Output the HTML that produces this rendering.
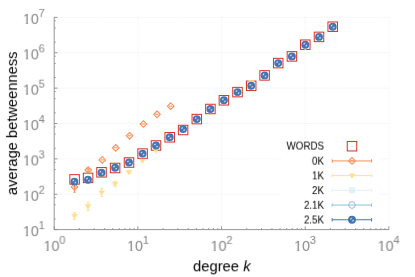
<!DOCTYPE html><html><head><meta charset="utf-8"><style>
html,body{margin:0;padding:0;background:#fff;}
body{width:415px;height:277px;position:relative;overflow:hidden;font-family:"Liberation Sans",sans-serif;}
.tl{position:absolute;color:#848484;font-size:14.3px;line-height:1;white-space:nowrap;}
.o{display:inline-block;clip-path:polygon(0 0,100% 0,100% 0.75em,0.36em 0.75em,0.36em 100%,0.23em 100%,0.23em 0.75em,0 0.75em);}
.tl sup{font-size:11.2px;position:relative;top:-7.3px;vertical-align:baseline;line-height:0;margin-left:-0.2px}
.lg{position:absolute;color:#000;font-size:10.4px;line-height:1;white-space:nowrap;text-align:right;width:60px;transform-origin:100% 50%;transform:scaleX(0.94);}
.xl{position:absolute;color:#000;font-size:14.8px;line-height:1;white-space:nowrap;}
.yl{position:absolute;color:#000;font-size:14.68px;line-height:1;white-space:nowrap;transform-origin:0 0;transform:rotate(-90deg);}
</style></head><body>
<svg width="415" height="277" viewBox="0 0 415 277" style="position:absolute;left:0;top:0;filter:blur(0.35px)">
<rect width="415" height="277" fill="#fff"/>
<g stroke="#e1e1e1" stroke-width="0.45" stroke-dasharray="1.5,1.0" fill="none">
<line x1="137.88" y1="17.4" x2="137.88" y2="229.6" stroke="#e9e9e9"/>
<line x1="221.55" y1="17.4" x2="221.55" y2="229.6" stroke="#e9e9e9"/>
<line x1="305.22" y1="17.4" x2="305.22" y2="229.6" stroke="#e9e9e9"/>
<line x1="388.90" y1="17.4" x2="388.90" y2="229.6" stroke="#e9e9e9"/>
<line x1="54.2" y1="194.23" x2="388.9" y2="194.23"/>
<line x1="54.2" y1="158.87" x2="388.9" y2="158.87"/>
<line x1="54.2" y1="123.50" x2="388.9" y2="123.50"/>
<line x1="54.2" y1="88.13" x2="388.9" y2="88.13"/>
<line x1="54.2" y1="52.77" x2="388.9" y2="52.77"/>
<line x1="54.2" y1="17.40" x2="388.9" y2="17.40"/>
</g>
<rect x="281.5" y="138.8" width="98.3" height="89.5" fill="#fff"/>
<g stroke="#8a8a8a" stroke-width="0.9" fill="none">
<path d="M54.2 17.4 V229.6 H388.9"/>
<line x1="54.20" y1="229.6" x2="54.20" y2="226.4"/>
<line x1="79.39" y1="229.6" x2="79.39" y2="228.0" stroke-width="0.8"/>
<line x1="94.12" y1="229.6" x2="94.12" y2="228.0" stroke-width="0.8"/>
<line x1="104.58" y1="229.6" x2="104.58" y2="228.0" stroke-width="0.8"/>
<line x1="112.69" y1="229.6" x2="112.69" y2="228.0" stroke-width="0.8"/>
<line x1="119.31" y1="229.6" x2="119.31" y2="228.0" stroke-width="0.8"/>
<line x1="124.91" y1="229.6" x2="124.91" y2="228.0" stroke-width="0.8"/>
<line x1="129.77" y1="229.6" x2="129.77" y2="228.0" stroke-width="0.8"/>
<line x1="134.05" y1="229.6" x2="134.05" y2="228.0" stroke-width="0.8"/>
<line x1="137.88" y1="229.6" x2="137.88" y2="226.4"/>
<line x1="163.06" y1="229.6" x2="163.06" y2="228.0" stroke-width="0.8"/>
<line x1="177.80" y1="229.6" x2="177.80" y2="228.0" stroke-width="0.8"/>
<line x1="188.25" y1="229.6" x2="188.25" y2="228.0" stroke-width="0.8"/>
<line x1="196.36" y1="229.6" x2="196.36" y2="228.0" stroke-width="0.8"/>
<line x1="202.99" y1="229.6" x2="202.99" y2="228.0" stroke-width="0.8"/>
<line x1="208.59" y1="229.6" x2="208.59" y2="228.0" stroke-width="0.8"/>
<line x1="213.44" y1="229.6" x2="213.44" y2="228.0" stroke-width="0.8"/>
<line x1="217.72" y1="229.6" x2="217.72" y2="228.0" stroke-width="0.8"/>
<line x1="221.55" y1="229.6" x2="221.55" y2="226.4"/>
<line x1="246.74" y1="229.6" x2="246.74" y2="228.0" stroke-width="0.8"/>
<line x1="261.47" y1="229.6" x2="261.47" y2="228.0" stroke-width="0.8"/>
<line x1="271.93" y1="229.6" x2="271.93" y2="228.0" stroke-width="0.8"/>
<line x1="280.04" y1="229.6" x2="280.04" y2="228.0" stroke-width="0.8"/>
<line x1="286.66" y1="229.6" x2="286.66" y2="228.0" stroke-width="0.8"/>
<line x1="292.26" y1="229.6" x2="292.26" y2="228.0" stroke-width="0.8"/>
<line x1="297.12" y1="229.6" x2="297.12" y2="228.0" stroke-width="0.8"/>
<line x1="301.40" y1="229.6" x2="301.40" y2="228.0" stroke-width="0.8"/>
<line x1="305.22" y1="229.6" x2="305.22" y2="226.4"/>
<line x1="330.41" y1="229.6" x2="330.41" y2="228.0" stroke-width="0.8"/>
<line x1="345.15" y1="229.6" x2="345.15" y2="228.0" stroke-width="0.8"/>
<line x1="355.60" y1="229.6" x2="355.60" y2="228.0" stroke-width="0.8"/>
<line x1="363.71" y1="229.6" x2="363.71" y2="228.0" stroke-width="0.8"/>
<line x1="370.34" y1="229.6" x2="370.34" y2="228.0" stroke-width="0.8"/>
<line x1="375.94" y1="229.6" x2="375.94" y2="228.0" stroke-width="0.8"/>
<line x1="380.79" y1="229.6" x2="380.79" y2="228.0" stroke-width="0.8"/>
<line x1="385.07" y1="229.6" x2="385.07" y2="228.0" stroke-width="0.8"/>
<line x1="388.90" y1="229.6" x2="388.90" y2="226.4"/>
<line x1="54.2" y1="229.60" x2="57.400000000000006" y2="229.60"/>
<line x1="54.2" y1="218.95" x2="55.800000000000004" y2="218.95" stroke-width="0.8"/>
<line x1="54.2" y1="204.88" x2="55.800000000000004" y2="204.88" stroke-width="0.8"/>
<line x1="54.2" y1="197.66" x2="55.800000000000004" y2="197.66" stroke-width="0.8"/>
<line x1="54.2" y1="194.23" x2="57.400000000000006" y2="194.23"/>
<line x1="54.2" y1="183.59" x2="55.800000000000004" y2="183.59" stroke-width="0.8"/>
<line x1="54.2" y1="169.51" x2="55.800000000000004" y2="169.51" stroke-width="0.8"/>
<line x1="54.2" y1="162.29" x2="55.800000000000004" y2="162.29" stroke-width="0.8"/>
<line x1="54.2" y1="158.87" x2="57.400000000000006" y2="158.87"/>
<line x1="54.2" y1="148.22" x2="55.800000000000004" y2="148.22" stroke-width="0.8"/>
<line x1="54.2" y1="134.15" x2="55.800000000000004" y2="134.15" stroke-width="0.8"/>
<line x1="54.2" y1="126.93" x2="55.800000000000004" y2="126.93" stroke-width="0.8"/>
<line x1="54.2" y1="123.50" x2="57.400000000000006" y2="123.50"/>
<line x1="54.2" y1="112.85" x2="55.800000000000004" y2="112.85" stroke-width="0.8"/>
<line x1="54.2" y1="98.78" x2="55.800000000000004" y2="98.78" stroke-width="0.8"/>
<line x1="54.2" y1="91.56" x2="55.800000000000004" y2="91.56" stroke-width="0.8"/>
<line x1="54.2" y1="88.13" x2="57.400000000000006" y2="88.13"/>
<line x1="54.2" y1="77.49" x2="55.800000000000004" y2="77.49" stroke-width="0.8"/>
<line x1="54.2" y1="63.41" x2="55.800000000000004" y2="63.41" stroke-width="0.8"/>
<line x1="54.2" y1="56.19" x2="55.800000000000004" y2="56.19" stroke-width="0.8"/>
<line x1="54.2" y1="52.77" x2="57.400000000000006" y2="52.77"/>
<line x1="54.2" y1="42.12" x2="55.800000000000004" y2="42.12" stroke-width="0.8"/>
<line x1="54.2" y1="28.05" x2="55.800000000000004" y2="28.05" stroke-width="0.8"/>
<line x1="54.2" y1="20.83" x2="55.800000000000004" y2="20.83" stroke-width="0.8"/>
<line x1="54.2" y1="17.40" x2="57.400000000000006" y2="17.40"/>
</g>
<rect x="69.85" y="174.65" width="9.5" height="9.5" fill="none" stroke="#d73027" stroke-width="1"/>
<circle cx="74.60" cy="179.40" r="0.4" fill="#d73027"/>
<rect x="83.35" y="173.15" width="9.5" height="9.5" fill="none" stroke="#d73027" stroke-width="1"/>
<circle cx="88.10" cy="177.90" r="0.4" fill="#d73027"/>
<rect x="96.75" y="167.55" width="9.5" height="9.5" fill="none" stroke="#d73027" stroke-width="1"/>
<circle cx="101.50" cy="172.30" r="0.4" fill="#d73027"/>
<rect x="110.35" y="163.25" width="9.5" height="9.5" fill="none" stroke="#d73027" stroke-width="1"/>
<circle cx="115.10" cy="168.00" r="0.4" fill="#d73027"/>
<rect x="124.25" y="157.75" width="9.5" height="9.5" fill="none" stroke="#d73027" stroke-width="1"/>
<circle cx="129.00" cy="162.50" r="0.4" fill="#d73027"/>
<rect x="137.85" y="148.85" width="9.5" height="9.5" fill="none" stroke="#d73027" stroke-width="1"/>
<circle cx="142.60" cy="153.60" r="0.4" fill="#d73027"/>
<rect x="151.25" y="140.75" width="9.5" height="9.5" fill="none" stroke="#d73027" stroke-width="1"/>
<circle cx="156.00" cy="145.50" r="0.4" fill="#d73027"/>
<rect x="164.95" y="132.55" width="9.5" height="9.5" fill="none" stroke="#d73027" stroke-width="1"/>
<circle cx="169.70" cy="137.30" r="0.4" fill="#d73027"/>
<rect x="178.35" y="125.25" width="9.5" height="9.5" fill="none" stroke="#d73027" stroke-width="1"/>
<circle cx="183.10" cy="130.00" r="0.4" fill="#d73027"/>
<rect x="192.05" y="114.35" width="9.5" height="9.5" fill="none" stroke="#d73027" stroke-width="1"/>
<circle cx="196.80" cy="119.10" r="0.4" fill="#d73027"/>
<rect x="205.65" y="104.25" width="9.5" height="9.5" fill="none" stroke="#d73027" stroke-width="1"/>
<circle cx="210.40" cy="109.00" r="0.4" fill="#d73027"/>
<rect x="219.15" y="95.55" width="9.5" height="9.5" fill="none" stroke="#d73027" stroke-width="1"/>
<circle cx="223.90" cy="100.30" r="0.4" fill="#d73027"/>
<rect x="232.75" y="87.35" width="9.5" height="9.5" fill="none" stroke="#d73027" stroke-width="1"/>
<circle cx="237.50" cy="92.10" r="0.4" fill="#d73027"/>
<rect x="246.45" y="81.05" width="9.5" height="9.5" fill="none" stroke="#d73027" stroke-width="1"/>
<circle cx="251.20" cy="85.80" r="0.4" fill="#d73027"/>
<rect x="259.85" y="70.65" width="9.5" height="9.5" fill="none" stroke="#d73027" stroke-width="1"/>
<circle cx="264.60" cy="75.40" r="0.4" fill="#d73027"/>
<rect x="273.45" y="58.35" width="9.5" height="9.5" fill="none" stroke="#d73027" stroke-width="1"/>
<circle cx="278.20" cy="63.10" r="0.4" fill="#d73027"/>
<rect x="287.15" y="51.65" width="9.5" height="9.5" fill="none" stroke="#d73027" stroke-width="1"/>
<circle cx="291.90" cy="56.40" r="0.4" fill="#d73027"/>
<rect x="300.55" y="39.95" width="9.5" height="9.5" fill="none" stroke="#d73027" stroke-width="1"/>
<circle cx="305.30" cy="44.70" r="0.4" fill="#d73027"/>
<rect x="314.25" y="32.15" width="9.5" height="9.5" fill="none" stroke="#d73027" stroke-width="1"/>
<circle cx="319.00" cy="36.90" r="0.4" fill="#d73027"/>
<rect x="327.95" y="21.95" width="9.5" height="9.5" fill="none" stroke="#d73027" stroke-width="1"/>
<circle cx="332.70" cy="26.70" r="0.4" fill="#d73027"/>
<path d="M74.50 183.90 V192.20 M72.90 183.90 h3.2 M72.90 192.20 h3.2" stroke="#fc8d59" stroke-width="0.9" fill="none"/>
<path d="M74.50 183.60 L77.80 186.90 L74.50 190.20 L71.20 186.90 Z" fill="none" stroke="#fc8d59" stroke-width="1.1"/>
<path d="M72.90 186.90 h3.2" stroke="#fc8d59" stroke-width="1" fill="none"/>
<path d="M88.20 168.80 V171.40 M86.60 168.80 h3.2 M86.60 171.40 h3.2" stroke="#fc8d59" stroke-width="0.9" fill="none"/>
<path d="M88.20 166.70 L91.50 170.00 L88.20 173.30 L84.90 170.00 Z" fill="none" stroke="#fc8d59" stroke-width="1.1"/>
<path d="M86.60 170.00 h3.2" stroke="#fc8d59" stroke-width="1" fill="none"/>
<path d="M102.30 156.60 L105.60 159.90 L102.30 163.20 L99.00 159.90 Z" fill="none" stroke="#fc8d59" stroke-width="1.1"/>
<path d="M100.70 159.90 h3.2" stroke="#fc8d59" stroke-width="1" fill="none"/>
<path d="M115.70 144.50 L119.00 147.80 L115.70 151.10 L112.40 147.80 Z" fill="none" stroke="#fc8d59" stroke-width="1.1"/>
<path d="M114.10 147.80 h3.2" stroke="#fc8d59" stroke-width="1" fill="none"/>
<path d="M129.60 132.50 L132.90 135.80 L129.60 139.10 L126.30 135.80 Z" fill="none" stroke="#fc8d59" stroke-width="1.1"/>
<path d="M128.00 135.80 h3.2" stroke="#fc8d59" stroke-width="1" fill="none"/>
<path d="M143.40 120.70 L146.70 124.00 L143.40 127.30 L140.10 124.00 Z" fill="none" stroke="#fc8d59" stroke-width="1.1"/>
<path d="M141.80 124.00 h3.2" stroke="#fc8d59" stroke-width="1" fill="none"/>
<path d="M157.00 111.00 L160.30 114.30 L157.00 117.60 L153.70 114.30 Z" fill="none" stroke="#fc8d59" stroke-width="1.1"/>
<path d="M155.40 114.30 h3.2" stroke="#fc8d59" stroke-width="1" fill="none"/>
<path d="M170.70 102.90 L174.00 106.20 L170.70 109.50 L167.40 106.20 Z" fill="none" stroke="#fc8d59" stroke-width="1.1"/>
<path d="M169.10 106.20 h3.2" stroke="#fc8d59" stroke-width="1" fill="none"/>
<path d="M74.50 212.50 V219.70 M72.90 212.50 h3.2 M72.90 219.70 h3.2" stroke="#fee090" stroke-width="0.9" fill="none"/>
<path d="M71.50 214.10 L77.50 214.10 L74.50 218.80 Z" fill="#fee090" stroke="#fee090" stroke-width="0.4"/>
<path d="M88.00 202.20 V210.60 M86.40 202.20 h3.2 M86.40 210.60 h3.2" stroke="#fee090" stroke-width="0.9" fill="none"/>
<path d="M85.00 204.50 L91.00 204.50 L88.00 209.20 Z" fill="#fee090" stroke="#fee090" stroke-width="0.4"/>
<path d="M101.60 188.50 V196.50 M100.00 188.50 h3.2 M100.00 196.50 h3.2" stroke="#fee090" stroke-width="0.9" fill="none"/>
<path d="M98.60 190.80 L104.60 190.80 L101.60 195.50 Z" fill="#fee090" stroke="#fee090" stroke-width="0.4"/>
<path d="M115.10 181.20 V186.40 M113.50 181.20 h3.2 M113.50 186.40 h3.2" stroke="#fee090" stroke-width="0.9" fill="none"/>
<path d="M112.10 182.10 L118.10 182.10 L115.10 186.80 Z" fill="#fee090" stroke="#fee090" stroke-width="0.4"/>
<path d="M128.80 170.70 V173.70 M127.20 170.70 h3.2 M127.20 173.70 h3.2" stroke="#fee090" stroke-width="0.9" fill="none"/>
<path d="M125.80 170.30 L131.80 170.30 L128.80 175.00 Z" fill="#fee090" stroke="#fee090" stroke-width="0.4"/>
<path d="M142.40 159.80 V161.80 M140.80 159.80 h3.2 M140.80 161.80 h3.2" stroke="#fee090" stroke-width="0.9" fill="none"/>
<path d="M139.40 158.90 L145.40 158.90 L142.40 163.60 Z" fill="#fee090" stroke="#fee090" stroke-width="0.4"/>
<path d="M152.80 148.70 L158.80 148.70 L155.80 153.40 Z" fill="#fee090" stroke="#fee090" stroke-width="0.4"/>
<path d="M166.70 136.20 L172.70 136.20 L169.70 140.90 Z" fill="#fee090" stroke="#fee090" stroke-width="0.4"/>
<path d="M180.10 128.00 L186.10 128.00 L183.10 132.70 Z" fill="#fee090" stroke="#fee090" stroke-width="0.4"/>
<path d="M193.80 118.00 L199.80 118.00 L196.80 122.70 Z" fill="#fee090" stroke="#fee090" stroke-width="0.4"/>
<path d="M207.40 107.90 L213.40 107.90 L210.40 112.60 Z" fill="#fee090" stroke="#fee090" stroke-width="0.4"/>
<path d="M220.90 99.20 L226.90 99.20 L223.90 103.90 Z" fill="#fee090" stroke="#fee090" stroke-width="0.4"/>
<path d="M234.50 91.00 L240.50 91.00 L237.50 95.70 Z" fill="#fee090" stroke="#fee090" stroke-width="0.4"/>
<path d="M248.20 80.40 L254.20 80.40 L251.20 85.10 Z" fill="#fee090" stroke="#fee090" stroke-width="0.4"/>
<path d="M261.60 74.30 L267.60 74.30 L264.60 79.00 Z" fill="#fee090" stroke="#fee090" stroke-width="0.4"/>
<path d="M275.20 62.00 L281.20 62.00 L278.20 66.70 Z" fill="#fee090" stroke="#fee090" stroke-width="0.4"/>
<path d="M288.90 55.30 L294.90 55.30 L291.90 60.00 Z" fill="#fee090" stroke="#fee090" stroke-width="0.4"/>
<path d="M302.30 45.70 L308.30 45.70 L305.30 50.40 Z" fill="#fee090" stroke="#fee090" stroke-width="0.4"/>
<circle cx="74.40" cy="181.60" r="3.95" fill="#4575b4"/>
<path d="M74.40 181.60 L72.30 181.60 A2.1 2.1 0 0 1 74.40 179.50 Z M74.40 181.60 L76.50 181.60 A2.1 2.1 0 0 1 74.40 183.70 Z" fill="#fff" fill-opacity="0.85"/>
<path d="M72.30 181.60 h4.2 M74.40 179.50 v4.2" stroke="#4575b4" stroke-width="0.8" fill="none"/>
<circle cx="88.00" cy="179.70" r="3.95" fill="#4575b4"/>
<path d="M88.00 179.70 L85.90 179.70 A2.1 2.1 0 0 1 88.00 177.60 Z M88.00 179.70 L90.10 179.70 A2.1 2.1 0 0 1 88.00 181.80 Z" fill="#fff" fill-opacity="0.85"/>
<path d="M85.90 179.70 h4.2 M88.00 177.60 v4.2" stroke="#4575b4" stroke-width="0.8" fill="none"/>
<circle cx="101.50" cy="172.80" r="3.95" fill="#4575b4"/>
<path d="M101.50 172.80 L99.40 172.80 A2.1 2.1 0 0 1 101.50 170.70 Z M101.50 172.80 L103.60 172.80 A2.1 2.1 0 0 1 101.50 174.90 Z" fill="#fff" fill-opacity="0.85"/>
<path d="M99.40 172.80 h4.2 M101.50 170.70 v4.2" stroke="#4575b4" stroke-width="0.8" fill="none"/>
<circle cx="115.10" cy="167.70" r="3.95" fill="#4575b4"/>
<path d="M115.10 167.70 L113.00 167.70 A2.1 2.1 0 0 1 115.10 165.60 Z M115.10 167.70 L117.20 167.70 A2.1 2.1 0 0 1 115.10 169.80 Z" fill="#fff" fill-opacity="0.85"/>
<path d="M113.00 167.70 h4.2 M115.10 165.60 v4.2" stroke="#4575b4" stroke-width="0.8" fill="none"/>
<circle cx="129.00" cy="162.50" r="3.95" fill="#4575b4"/>
<path d="M129.00 162.50 L126.90 162.50 A2.1 2.1 0 0 1 129.00 160.40 Z M129.00 162.50 L131.10 162.50 A2.1 2.1 0 0 1 129.00 164.60 Z" fill="#fff" fill-opacity="0.85"/>
<path d="M126.90 162.50 h4.2 M129.00 160.40 v4.2" stroke="#4575b4" stroke-width="0.8" fill="none"/>
<circle cx="142.60" cy="153.60" r="3.95" fill="#4575b4"/>
<path d="M142.60 153.60 L140.50 153.60 A2.1 2.1 0 0 1 142.60 151.50 Z M142.60 153.60 L144.70 153.60 A2.1 2.1 0 0 1 142.60 155.70 Z" fill="#fff" fill-opacity="0.85"/>
<path d="M140.50 153.60 h4.2 M142.60 151.50 v4.2" stroke="#4575b4" stroke-width="0.8" fill="none"/>
<circle cx="156.00" cy="145.50" r="3.95" fill="#4575b4"/>
<path d="M156.00 145.50 L153.90 145.50 A2.1 2.1 0 0 1 156.00 143.40 Z M156.00 145.50 L158.10 145.50 A2.1 2.1 0 0 1 156.00 147.60 Z" fill="#fff" fill-opacity="0.85"/>
<path d="M153.90 145.50 h4.2 M156.00 143.40 v4.2" stroke="#4575b4" stroke-width="0.8" fill="none"/>
<circle cx="169.70" cy="137.30" r="3.95" fill="#4575b4"/>
<path d="M169.70 137.30 L167.60 137.30 A2.1 2.1 0 0 1 169.70 135.20 Z M169.70 137.30 L171.80 137.30 A2.1 2.1 0 0 1 169.70 139.40 Z" fill="#fff" fill-opacity="0.85"/>
<path d="M167.60 137.30 h4.2 M169.70 135.20 v4.2" stroke="#4575b4" stroke-width="0.8" fill="none"/>
<circle cx="183.10" cy="129.10" r="3.95" fill="#4575b4"/>
<path d="M183.10 129.10 L181.00 129.10 A2.1 2.1 0 0 1 183.10 127.00 Z M183.10 129.10 L185.20 129.10 A2.1 2.1 0 0 1 183.10 131.20 Z" fill="#fff" fill-opacity="0.85"/>
<path d="M181.00 129.10 h4.2 M183.10 127.00 v4.2" stroke="#4575b4" stroke-width="0.8" fill="none"/>
<circle cx="196.80" cy="119.10" r="3.95" fill="#4575b4"/>
<path d="M196.80 119.10 L194.70 119.10 A2.1 2.1 0 0 1 196.80 117.00 Z M196.80 119.10 L198.90 119.10 A2.1 2.1 0 0 1 196.80 121.20 Z" fill="#fff" fill-opacity="0.85"/>
<path d="M194.70 119.10 h4.2 M196.80 117.00 v4.2" stroke="#4575b4" stroke-width="0.8" fill="none"/>
<circle cx="210.40" cy="109.00" r="3.95" fill="#4575b4"/>
<path d="M210.40 109.00 L208.30 109.00 A2.1 2.1 0 0 1 210.40 106.90 Z M210.40 109.00 L212.50 109.00 A2.1 2.1 0 0 1 210.40 111.10 Z" fill="#fff" fill-opacity="0.85"/>
<path d="M208.30 109.00 h4.2 M210.40 106.90 v4.2" stroke="#4575b4" stroke-width="0.8" fill="none"/>
<circle cx="223.90" cy="100.30" r="3.95" fill="#4575b4"/>
<path d="M223.90 100.30 L221.80 100.30 A2.1 2.1 0 0 1 223.90 98.20 Z M223.90 100.30 L226.00 100.30 A2.1 2.1 0 0 1 223.90 102.40 Z" fill="#fff" fill-opacity="0.85"/>
<path d="M221.80 100.30 h4.2 M223.90 98.20 v4.2" stroke="#4575b4" stroke-width="0.8" fill="none"/>
<circle cx="237.50" cy="92.10" r="3.95" fill="#4575b4"/>
<path d="M237.50 92.10 L235.40 92.10 A2.1 2.1 0 0 1 237.50 90.00 Z M237.50 92.10 L239.60 92.10 A2.1 2.1 0 0 1 237.50 94.20 Z" fill="#fff" fill-opacity="0.85"/>
<path d="M235.40 92.10 h4.2 M237.50 90.00 v4.2" stroke="#4575b4" stroke-width="0.8" fill="none"/>
<circle cx="251.20" cy="85.80" r="3.95" fill="#4575b4"/>
<path d="M251.20 85.80 L249.10 85.80 A2.1 2.1 0 0 1 251.20 83.70 Z M251.20 85.80 L253.30 85.80 A2.1 2.1 0 0 1 251.20 87.90 Z" fill="#fff" fill-opacity="0.85"/>
<path d="M249.10 85.80 h4.2 M251.20 83.70 v4.2" stroke="#4575b4" stroke-width="0.8" fill="none"/>
<circle cx="264.60" cy="75.40" r="3.95" fill="#4575b4"/>
<path d="M264.60 75.40 L262.50 75.40 A2.1 2.1 0 0 1 264.60 73.30 Z M264.60 75.40 L266.70 75.40 A2.1 2.1 0 0 1 264.60 77.50 Z" fill="#fff" fill-opacity="0.85"/>
<path d="M262.50 75.40 h4.2 M264.60 73.30 v4.2" stroke="#4575b4" stroke-width="0.8" fill="none"/>
<circle cx="278.20" cy="63.10" r="3.95" fill="#4575b4"/>
<path d="M278.20 63.10 L276.10 63.10 A2.1 2.1 0 0 1 278.20 61.00 Z M278.20 63.10 L280.30 63.10 A2.1 2.1 0 0 1 278.20 65.20 Z" fill="#fff" fill-opacity="0.85"/>
<path d="M276.10 63.10 h4.2 M278.20 61.00 v4.2" stroke="#4575b4" stroke-width="0.8" fill="none"/>
<circle cx="291.90" cy="56.40" r="3.95" fill="#4575b4"/>
<path d="M291.90 56.40 L289.80 56.40 A2.1 2.1 0 0 1 291.90 54.30 Z M291.90 56.40 L294.00 56.40 A2.1 2.1 0 0 1 291.90 58.50 Z" fill="#fff" fill-opacity="0.85"/>
<path d="M289.80 56.40 h4.2 M291.90 54.30 v4.2" stroke="#4575b4" stroke-width="0.8" fill="none"/>
<circle cx="305.30" cy="44.70" r="3.95" fill="#4575b4"/>
<path d="M305.30 44.70 L303.20 44.70 A2.1 2.1 0 0 1 305.30 42.60 Z M305.30 44.70 L307.40 44.70 A2.1 2.1 0 0 1 305.30 46.80 Z" fill="#fff" fill-opacity="0.85"/>
<path d="M303.20 44.70 h4.2 M305.30 42.60 v4.2" stroke="#4575b4" stroke-width="0.8" fill="none"/>
<circle cx="319.00" cy="36.90" r="3.95" fill="#4575b4"/>
<path d="M319.00 36.90 L316.90 36.90 A2.1 2.1 0 0 1 319.00 34.80 Z M319.00 36.90 L321.10 36.90 A2.1 2.1 0 0 1 319.00 39.00 Z" fill="#fff" fill-opacity="0.85"/>
<path d="M316.90 36.90 h4.2 M319.00 34.80 v4.2" stroke="#4575b4" stroke-width="0.8" fill="none"/>
<circle cx="332.70" cy="26.70" r="3.95" fill="#4575b4"/>
<path d="M332.70 26.70 L330.60 26.70 A2.1 2.1 0 0 1 332.70 24.60 Z M332.70 26.70 L334.80 26.70 A2.1 2.1 0 0 1 332.70 28.80 Z" fill="#fff" fill-opacity="0.85"/>
<path d="M330.60 26.70 h4.2 M332.70 24.60 v4.2" stroke="#4575b4" stroke-width="0.8" fill="none"/>
<rect x="347.25" y="141.45" width="9.5" height="9.5" fill="none" stroke="#d73027" stroke-width="1"/>
<circle cx="352.0" cy="146.2" r="0.4" fill="#d73027"/>
<path d="M332.2 160.95 H371.6 M332.2 159.25 v3.4 M371.6 159.25 v3.4" stroke="#fc8d59" stroke-width="1" fill="none"/>
<path d="M352.00 157.65 L355.30 160.95 L352.00 164.25 L348.70 160.95 Z" fill="none" stroke="#fc8d59" stroke-width="1.1"/>
<path d="M350.40 160.95 h3.2" stroke="#fc8d59" stroke-width="1" fill="none"/>
<path d="M332.2 175.65 H371.6 M332.2 173.95000000000002 v3.4 M371.6 173.95000000000002 v3.4" stroke="#fee090" stroke-width="1" fill="none"/>
<path d="M349.00 173.75 L355.00 173.75 L352.00 178.45 Z" fill="#fee090" stroke="#fee090" stroke-width="0.4"/>
<path d="M332.2 190.35 H371.6 M332.2 188.65 v3.4 M371.6 188.65 v3.4" stroke="#e0f3f8" stroke-width="1" fill="none"/>
<rect x="349.00" y="187.35" width="6.0" height="6.0" fill="#e0f3f8"/>
<path d="M332.2 205.05 H371.6 M332.2 203.35000000000002 v3.4 M371.6 203.35000000000002 v3.4" stroke="#91bfdb" stroke-width="1" fill="none"/>
<circle cx="352.00" cy="205.05" r="3.3" fill="none" stroke="#91bfdb" stroke-width="1"/>
<path d="M332.2 219.75 H371.6 M332.2 218.05 v3.4 M371.6 218.05 v3.4" stroke="#4575b4" stroke-width="1" fill="none"/>
<circle cx="352.00" cy="219.75" r="3.95" fill="#4575b4"/>
<path d="M352.00 219.75 L349.90 219.75 A2.1 2.1 0 0 1 352.00 217.65 Z M352.00 219.75 L354.10 219.75 A2.1 2.1 0 0 1 352.00 221.85 Z" fill="#fff" fill-opacity="0.85"/>
<path d="M349.90 219.75 h4.2 M352.00 217.65 v4.2" stroke="#4575b4" stroke-width="0.8" fill="none"/>
</svg>
<svg width="0" height="0" style="position:absolute"><defs><filter id="k0" x="-10%" y="-40%" width="120%" height="180%" color-interpolation-filters="sRGB"><feConvolveMatrix order="3 3" kernelMatrix="0 0 0 0.17 0.68 0 0.03 0.12 0" divisor="1" preserveAlpha="false" edgeMode="none"/></filter><filter id="k1" x="-10%" y="-40%" width="120%" height="180%" color-interpolation-filters="sRGB"><feConvolveMatrix order="3 3" kernelMatrix="0.044 0.176 0 0.156 0.624 0 0 0 0" divisor="1" preserveAlpha="false" edgeMode="none"/></filter><filter id="k2" x="-10%" y="-40%" width="120%" height="180%" color-interpolation-filters="sRGB"><feConvolveMatrix order="3 3" kernelMatrix="0 0 0 0.116 0.464 0 0.084 0.336 0" divisor="1" preserveAlpha="false" edgeMode="none"/></filter><filter id="k3" x="-10%" y="-40%" width="120%" height="180%" color-interpolation-filters="sRGB"><feConvolveMatrix order="3 3" kernelMatrix="0.0072 0.029 0 0.1755 0.702 0 0.0172 0.069 0" divisor="1" preserveAlpha="false" edgeMode="none"/></filter><filter id="k4" x="-10%" y="-40%" width="120%" height="180%" color-interpolation-filters="sRGB"><feConvolveMatrix order="3 3" kernelMatrix="0.064 0.256 0 0.136 0.544 0 0 0 0" divisor="1" preserveAlpha="false" edgeMode="none"/></filter><filter id="k5" x="-10%" y="-40%" width="120%" height="180%" color-interpolation-filters="sRGB"><feConvolveMatrix order="3 3" kernelMatrix="0 0 0 0.136 0.544 0 0.064 0.256 0" divisor="1" preserveAlpha="false" edgeMode="none"/></filter><filter id="k6" x="-10%" y="-40%" width="120%" height="180%" color-interpolation-filters="sRGB"><feConvolveMatrix order="3 3" kernelMatrix="0.0172 0.069 0 0.1755 0.702 0 0.0072 0.029 0" divisor="1" preserveAlpha="false" edgeMode="none"/></filter><filter id="k7" x="-10%" y="-40%" width="120%" height="180%" color-interpolation-filters="sRGB"><feConvolveMatrix order="3 3" kernelMatrix="0.0575 0.0575 0 0.435 0.435 0 0.0075 0.0075 0" divisor="1" preserveAlpha="false" edgeMode="none"/></filter><filter id="k8" x="-10%" y="-40%" width="120%" height="180%" color-interpolation-filters="sRGB"><feConvolveMatrix order="3 3" kernelMatrix="0.0058 0.1012 0.0081 0.0437 0.7653 0.0611 0.0008 0.0132 0.0011" divisor="1" preserveAlpha="false" edgeMode="none"/></filter><filter id="k9" x="-10%" y="-40%" width="120%" height="180%" color-interpolation-filters="sRGB"><feConvolveMatrix order="3 3" kernelMatrix="0.0518 0.0633 0 0.3915 0.4785 0 0.0067 0.0083 0" divisor="1" preserveAlpha="false" edgeMode="none"/></filter><filter id="k10" x="-10%" y="-40%" width="120%" height="180%" color-interpolation-filters="sRGB"><feConvolveMatrix order="3 3" kernelMatrix="0.0032 0.1006 0.0112 0.0239 0.7613 0.0848 0.0004 0.0131 0.0015" divisor="1" preserveAlpha="false" edgeMode="none"/></filter><filter id="k11" x="-10%" y="-40%" width="120%" height="180%" color-interpolation-filters="sRGB"><feConvolveMatrix order="3 3" kernelMatrix="0.046 0.069 0 0.348 0.522 0 0.006 0.009 0" divisor="1" preserveAlpha="false" edgeMode="none"/></filter><filter id="k12" x="-10%" y="-40%" width="120%" height="180%" color-interpolation-filters="sRGB"><feConvolveMatrix order="3 3" kernelMatrix="0.024 0.352 0.024 0.036 0.528 0.036 0 0 0" divisor="1" preserveAlpha="false" edgeMode="none"/></filter><filter id="k13" x="-10%" y="-40%" width="120%" height="180%" color-interpolation-filters="sRGB"><feConvolveMatrix order="3 3" kernelMatrix="0.018 0.264 0.018 0.042 0.616 0.042 0 0 0" divisor="1" preserveAlpha="false" edgeMode="none"/></filter><filter id="k14" x="-10%" y="-40%" width="120%" height="180%" color-interpolation-filters="sRGB"><feConvolveMatrix order="3 3" kernelMatrix="0 0 0 0.036 0.528 0.036 0.024 0.352 0.024" divisor="1" preserveAlpha="false" edgeMode="none"/></filter><filter id="k15" x="-10%" y="-40%" width="120%" height="180%" color-interpolation-filters="sRGB"><feConvolveMatrix order="3 3" kernelMatrix="0.0009 0.0132 0.0009 0.0522 0.7656 0.0522 0.0069 0.1012 0.0069" divisor="1" preserveAlpha="false" edgeMode="none"/></filter><filter id="k16" x="-10%" y="-40%" width="120%" height="180%" color-interpolation-filters="sRGB"><feConvolveMatrix order="3 3" kernelMatrix="0.012 0.176 0.012 0.048 0.704 0.048 0 0 0" divisor="1" preserveAlpha="false" edgeMode="none"/></filter><filter id="k17" x="-10%" y="-40%" width="120%" height="180%" color-interpolation-filters="sRGB"><feConvolveMatrix order="3 3" kernelMatrix="0.03 0.44 0.03 0.03 0.44 0.03 0 0 0" divisor="1" preserveAlpha="false" edgeMode="none"/></filter><filter id="k18" x="-10%" y="-40%" width="120%" height="180%" color-interpolation-filters="sRGB"><feConvolveMatrix order="3 3" kernelMatrix="0 0 0 0.042 0.616 0.042 0.018 0.264 0.018" divisor="1" preserveAlpha="false" edgeMode="none"/></filter><filter id="k19" x="-10%" y="-40%" width="120%" height="180%" color-interpolation-filters="sRGB"><feConvolveMatrix order="3 3" kernelMatrix="0.012 0.048 0 0.176 0.704 0 0.012 0.048 0" divisor="1" preserveAlpha="false" edgeMode="none"/></filter></defs></svg>
<div class="tl" style="left:23px;top:224px;filter:url(#k0)"><span class="o">1</span>0<sup>1</sup></div>
<div class="tl" style="left:23px;top:189px;filter:url(#k1)"><span class="o">1</span>0<sup>2</sup></div>
<div class="tl" style="left:23px;top:153px;filter:url(#k2)"><span class="o">1</span>0<sup>3</sup></div>
<div class="tl" style="left:23px;top:118px;filter:url(#k3)"><span class="o">1</span>0<sup>4</sup></div>
<div class="tl" style="left:23px;top:83px;filter:url(#k4)"><span class="o">1</span>0<sup>5</sup></div>
<div class="tl" style="left:23px;top:47px;filter:url(#k5)"><span class="o">1</span>0<sup>6</sup></div>
<div class="tl" style="left:23px;top:12px;filter:url(#k6)"><span class="o">1</span>0<sup>7</sup></div>
<div class="tl" style="left:44px;top:239px;filter:url(#k7)"><span class="o">1</span>0<sup>0</sup></div>
<div class="tl" style="left:127px;top:239px;filter:url(#k8)"><span class="o">1</span>0<sup>1</sup></div>
<div class="tl" style="left:211px;top:239px;filter:url(#k9)"><span class="o">1</span>0<sup>2</sup></div>
<div class="tl" style="left:294px;top:239px;filter:url(#k10)"><span class="o">1</span>0<sup>3</sup></div>
<div class="tl" style="left:378px;top:239px;filter:url(#k11)"><span class="o">1</span>0<sup>4</sup></div>
<div class="lg" style="left:264px;top:142px;filter:url(#k12)">WORDS</div>
<div class="lg" style="left:264px;top:157px;filter:url(#k13)">0K</div>
<div class="lg" style="left:264px;top:171px;filter:url(#k14)"><span class="o">1</span>K</div>
<div class="lg" style="left:264px;top:186px;filter:url(#k15)">2K</div>
<div class="lg" style="left:264px;top:201px;filter:url(#k16)">2.<span class="o">1</span>K</div>
<div class="lg" style="left:264px;top:216px;filter:url(#k17)">2.5K</div>
<div class="xl" style="left:193px;top:259px;filter:url(#k18)">degree <i>k</i></div>
<div class="yl" style="left:5px;top:195px;filter:url(#k19)">average betweenness</div>
</body></html>
